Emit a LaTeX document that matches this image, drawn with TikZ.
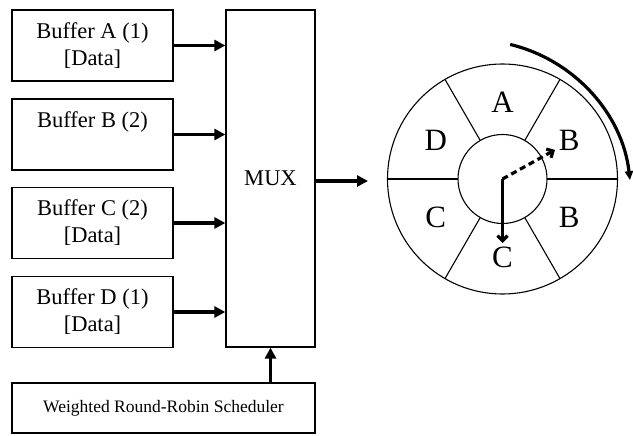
\documentclass[tikz,border=0pt]{standalone}
\usepackage{fontspec}
\setmainfont{Liberation Serif}
\usetikzlibrary{arrows.meta,calc}
\begin{document}
\begin{tikzpicture}[x=1pt,y=-1pt,
  box/.style={draw,line width=1.3pt,inner sep=0pt},
  buf/.style={box,minimum width=161pt,minimum height=71pt,align=center,font=\fontsize{22.5}{27}\selectfont},
  feed/.style={line width=3.6pt,-{Triangle[length=11pt,width=11pt]}},
  spoke/.style={line width=1.1pt},
  wl/.style={font=\fontsize{31}{31}\selectfont,inner sep=0pt},
  ptr/.style={line width=3.2pt,-{Straight Barb[length=5pt,width=10pt]}}]
\useasboundingbox (0,0) rectangle (633,436);
\node[buf] (a) at (92.5,45.5) {Buffer A (1)\\{[Data]}};
\node[buf] (b) at (92.5,134.5) {Buffer B (2)\\\phantom{[Data]}};
\node[buf] (cc) at (92.5,223) {Buffer C (2)\\{[Data]}};
\node[buf] (d) at (92.5,312) {Buffer D (1)\\{[Data]}};
\node[box,minimum width=89pt,minimum height=337pt,font=\fontsize{22.5}{27}\selectfont] (mux) at (270.5,178.5) {MUX};
\node[box,minimum width=303pt,minimum height=50pt,font=\fontsize{17.5}{20}\selectfont] (sched) at (163.5,408) {Weighted Round-Robin Scheduler};
\foreach \n in {a,b,cc,d}{
  \draw[feed] (\n.east) -- (\n.east -| mux.west);
}
\draw[feed] (sched.north -| mux.south) -- (mux.south);
\coordinate (wheelin) at (368,181);
\draw[feed] (mux.east |- wheelin) -- (wheelin);
% wheel
\coordinate (c) at (502.5,179);
\begin{scope}[shift={(c)},yscale=-1]
  \node[draw,circle,spoke,minimum size=230pt,inner sep=0pt] (outer) at (0,0) {};
  \node[draw,circle,spoke,minimum size=89pt,inner sep=0pt] (inner) at (0,0) {};
  \foreach \a in {0,60,...,300}{
    \draw[spoke] (\a:44.5) -- (\a:115);
  }
  \node[wl] (la) at (90:77) {A};
  \node[wl] (lb1) at (30:77) {B};
  \node[wl] (lb2) at (-30:77) {B};
  \node[wl] (lc1) at (270:78) {C};
  \node[wl] (lc2) at (210:77) {C};
  \node[wl] (ld) at (150:77) {D};
  \coordinate (dend) at (29:60);
  \coordinate (send) at (0,-64);
  \coordinate (rotstart) at ($(-29.5,-19)+(76.4:158)$);
\end{scope}
\draw[ptr] (c) -- (send);
\draw[ptr,dash pattern=on 6pt off 4pt] (c) -- (dend);
\draw[line width=3.2pt,-{Triangle[length=9pt,width=8pt]}] (rotstart) arc[start angle=-76.4,end angle=-6.5,radius=158];
\end{tikzpicture}
\end{document}
